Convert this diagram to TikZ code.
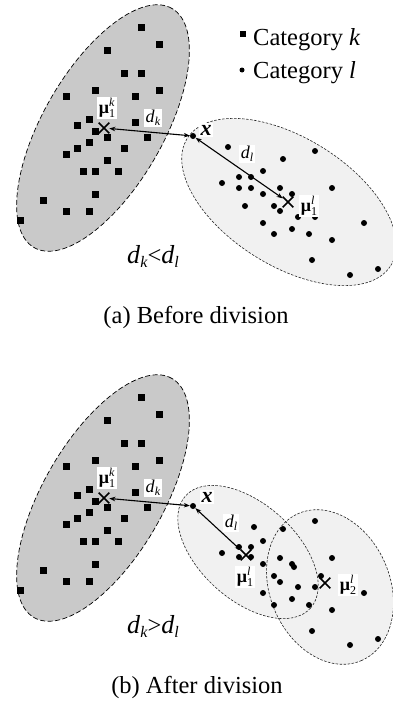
\documentclass[tikz,border=0pt]{standalone}
\usepackage{fontspec}
\setmainfont{Liberation Serif}
\usetikzlibrary{shapes.misc,arrows.meta}
\definecolor{clusterk}{gray}{0.79}
\definecolor{clusterl}{gray}{0.945}
\newcommand{\mulab}[2]{{\fontsize{18}{18}\selectfont\textbf{μ}}\raisebox{-3.5pt}{\fontsize{12}{12}\selectfont\shortstack[l]{\textit{#1}\\#2}}}
\newcommand{\dsub}[1]{{\fontsize{18}{18}\selectfont\textit{d}}\raisebox{-3pt}{\fontsize{12}{12}\selectfont\textit{#1}}}
\newcommand{\bigd}[1]{{\fontsize{26}{26}\selectfont\textit{d}}\raisebox{-4.5pt}{\fontsize{16}{16}\selectfont\textit{#1}}}
\def\sqlist{(141,27),(159,44),(107,50),(124,73),(141,73),(95,90),(159,90),(66,96),(135,96),(89,119),(135,122),(77,125),(95,131),(107,137),(147,137),(89,142),(77,148),(124,148),(66,154),(107,160),(83,171),(95,171),(118,171),(95,194),(43,200),(66,211),(89,211),(20,220)}
\begin{document}
\begin{tikzpicture}[x=1pt,y=-1pt,
  sq/.style={rectangle,fill=black,minimum size=7pt,inner sep=0pt},
  dot/.style={circle,fill=black,minimum size=6pt,inner sep=0pt},
  cent/.style={cross out,draw=black,line width=1.6pt,minimum size=9pt,inner sep=0pt},
  lab/.style={fill=white,inner sep=1.5pt},
  arr/.style={{Stealth[length=6pt,width=4.5pt]}-{Stealth[length=6pt,width=4.5pt]},line width=1.1pt},
  grayell/.style={fill=clusterk,draw=black,line width=0.7pt,dash pattern=on 5pt off 2.5pt},
  lightfill/.style={fill=clusterl},
  lightline/.style={draw=black!85,line width=0.6pt,dash pattern=on 2.5pt off 1.5pt},
  txt/.style={font=\fontsize{24.5}{29}\selectfont,inner sep=0pt}
]
\path[use as bounding box] (0,0) rectangle (393,704);

% ---------------- panel (a) ----------------
\draw[grayell, rotate around={60:(103,128)}] (103,128) ellipse (138pt and 60pt);
\path[lightfill, rotate around={-32:(289,202)}] (289,202) ellipse (120pt and 64pt);
\draw[lightline, rotate around={-32:(289,202)}] (289,202) ellipse (120pt and 64pt);
\foreach \p [count=\i] in \sqlist \node[sq] (sqa\i) at \p {};
\foreach \p [count=\i] in {(228,147),(315,151),(283,159),(263,171),(239,177),(251,177),(222,183),(239,188),(251,188),(263,194),(280,188),(292,194),(332,188),(245,206),(274,206),(280,211),(298,217),(315,217),(263,223),(292,229),(274,234),(309,234),(332,240),(364,223),(312,260),(350,275),(378,269)}
  \node[dot] (dta\i) at \p {};
\node[cent] (mka) at (104,128) {};
\node[dot] (xa) at (193,136) {};
\node[cent] (mla) at (288,202) {};
\draw[arr] (mka) -- (xa);
\draw[arr] (xa) -- (mla);
\node[lab] (lmka) at (107,108) {\mulab{k}{1}};
\node[lab] (ldka) at (153,118) {\dsub{k}};
\node[lab] (lxa) at (206,130) {\fontsize{22}{22}\selectfont\bfseries\itshape x};
\node[lab] (ldla) at (247,154) {\dsub{l}};
\node[lab] (lmla) at (309,206) {\mulab{l}{1}};
\node[txt,anchor=base west] (cmpa) at (127,263) {\bigd{k}<\bigd{l}};
% legend
\node[sq,minimum size=6pt] (lgk) at (243,34) {};
\node[txt,anchor=base west] (lgkt) at (253,45) {Category \textit{k}};
\node[dot,minimum size=5pt] (lgl) at (242,70) {};
\node[txt,anchor=base west] (lglt) at (253,78) {Category \textit{l}};
\node[txt,anchor=base] (capa) at (196,323) {(a) Before division};

% ---------------- panel (b) ----------------
\draw[grayell, rotate around={60:(103,498)}] (103,498) ellipse (138pt and 60pt);
\path[lightfill, rotate around={-42:(248,552)}] (248,552) ellipse (84pt and 48pt);
\path[lightfill, rotate around={-67:(330,587)}] (330,587) ellipse (80pt and 60pt);
\draw[lightline, rotate around={-42:(248,552)}] (248,552) ellipse (84pt and 48pt);
\draw[lightline, rotate around={-67:(330,587)}] (330,587) ellipse (80pt and 60pt);
\begin{scope}[yshift=-370pt]
\foreach \p [count=\i] in \sqlist \node[sq] (sqb\i) at \p {};
\end{scope}
\foreach \p [count=\i] in {(254,527),(315,521),(283,529),(263,541),(239,547),(251,547),(222,553),(239,557),(251,557),(263,564),(280,558),(292,564),(294,567),(332,558),(274,576),(280,582),(298,587),(315,587),(321,576),(263,593),(292,599),(274,605),(309,605),(332,610),(364,593),(312,631),(350,645),(378,639)}
  \node[dot] (dtb\i) at \p {};
\node[cent] (mkb) at (104,498) {};
\node[dot] (xb) at (193,506) {};
\node[cent] (mlb) at (246,555) {};
\node[cent] (m2b) at (325,583) {};
\draw[arr] (mkb) -- (xb);
\draw[arr] (xb) -- (mlb);
\node[lab] (lmkb) at (107,478) {\mulab{k}{1}};
\node[lab] (ldkb) at (153,488) {\dsub{k}};
\node[lab] (lxb) at (207,497) {\fontsize{22}{22}\selectfont\bfseries\itshape x};
\node[lab] (ldlb) at (231,523) {\dsub{l}};
\node[lab] (lmlb) at (245,577) {\mulab{l}{1}};
\node[lab] (lm2b) at (348,585) {\mulab{l}{2}};
\node[txt,anchor=base west] (cmpb) at (127,633) {\bigd{k}>\bigd{l}};
\node[txt,anchor=base] (capb) at (197,693) {(b) After division};
\end{tikzpicture}
\end{document}
